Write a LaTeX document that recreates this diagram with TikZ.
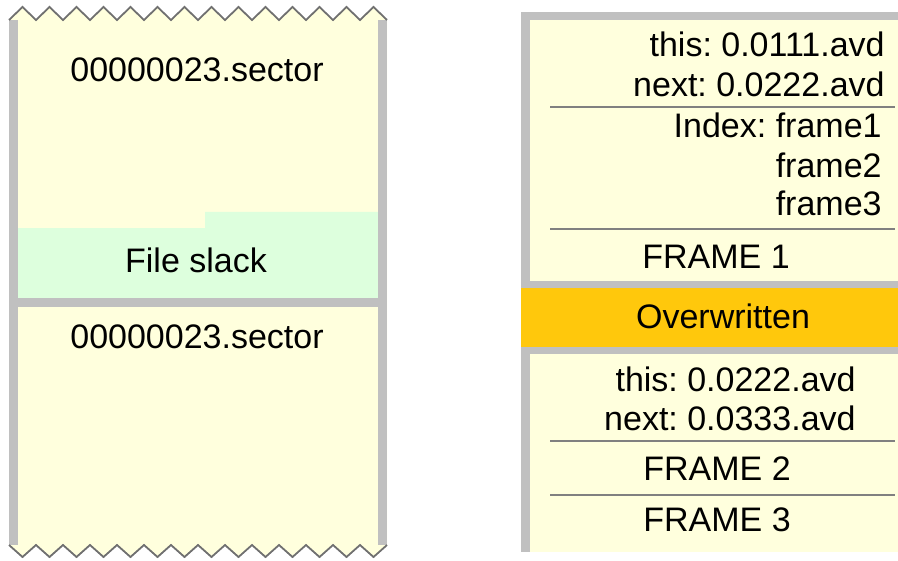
\documentclass[tikz,border=0pt]{standalone}
\usepackage{fontspec}
\setmainfont{Liberation Sans}
\usepackage{xcolor}
\usetikzlibrary{positioning}
\frenchspacing
\definecolor{cream}{HTML}{FFFFDD}
\definecolor{slackgreen}{HTML}{DDFFDD}
\definecolor{bargray}{HTML}{C0C0C0}
\definecolor{linegray}{HTML}{808080}
\definecolor{zigzag}{HTML}{707070}
\definecolor{overorange}{HTML}{FFC80C}
\tikzset{
    txtc/.style={
        inner sep=0pt,
        font=\fontsize{17}{20}\selectfont,
        anchor=base
    },
    txtr/.style={
        txtc,
        anchor=base east
    },
    sep/.style={
        draw=linegray,
        line width=1pt
    }
}
\tikzstyle{edge} = [draw=zigzag, line width=0.9pt, line join=miter]

\begin{document}
\begin{tikzpicture}[x=0.5pt,y=-0.5pt]
    \useasboundingbox (0,0) rectangle (898,561);
    % left block, torn top and bottom
    \fill[cream] (9,20) \foreach \i in {0,...,13} {-- ({9+27*\i+13.5},7) -- ({9+27*(\i+1)},20)}
        -- (387,545) \foreach \i in {13,...,0} {-- ({9+27*\i+13.5},557) -- ({9+27*\i},545)} -- cycle;
    \fill[slackgreen] (18,228) -- (205,228) -- (205,212) -- (378,212) -- (378,298) -- (18,298) -- cycle;
    \fill[bargray] (9,20) rectangle (18,545);
    \fill[bargray] (378,20) rectangle (387,545);
    \fill[bargray] (9,298) rectangle (387,307);
    \draw[edge] (9,20) \foreach \i in {0,...,13} {-- ({9+27*\i+13.5},7) -- ({9+27*(\i+1)},20)};
    \draw[edge] (9,545) \foreach \i in {0,...,13} {-- ({9+27*\i+13.5},557) -- ({9+27*(\i+1)},545)};
    \node (sec1) [txtc] at (197,82) {00000023.sector};
    \node (slack) [txtc] at (196,272) {File slack};
    \node (sec2) [txtc] at (197,348) {00000023.sector};
    % right block
    \fill[bargray] (521,12) rectangle (898,20);
    \fill[bargray] (521,12) rectangle (530,552);
    \fill[cream] (530,20) rectangle (898,281);
    \fill[bargray] (521,281) rectangle (898,288);
    \fill[overorange] (521,288) rectangle (898,347);
    \fill[bargray] (521,347) rectangle (898,354);
    \fill[cream] (530,354) rectangle (898,552);
    \draw[sep] (550,107) -- (895,107);
    \draw[sep] (550,229) -- (895,229);
    \draw[sep] (550,441) -- (895,441);
    \draw[sep] (550,495) -- (895,495);
    \node (this1) [txtr] at (885,57) {this: 0.0111.avd};
    \node (next1) [txtr] at (885,97) {next: 0.0222.avd};
    \node (idx1) [txtr] at (882,138) {Index: frame1};
    \node (idx2) [txtr] at (882,177) {frame2};
    \node (idx3) [txtr] at (882,215) {frame3};
    \node (frame1) [txtc] at (716,268) {FRAME 1};
    \node (over) [txtc] at (723,328) {Overwritten};
    \node (this2) [txtr] at (856,391) {this: 0.0222.avd};
    \node (next2) [txtr] at (856,430) {next: 0.0333.avd};
    \node (frame2) [txtc] at (717,480) {FRAME 2};
    \node (frame3) [txtc] at (717,531) {FRAME 3};
\end{tikzpicture}
\end{document}
